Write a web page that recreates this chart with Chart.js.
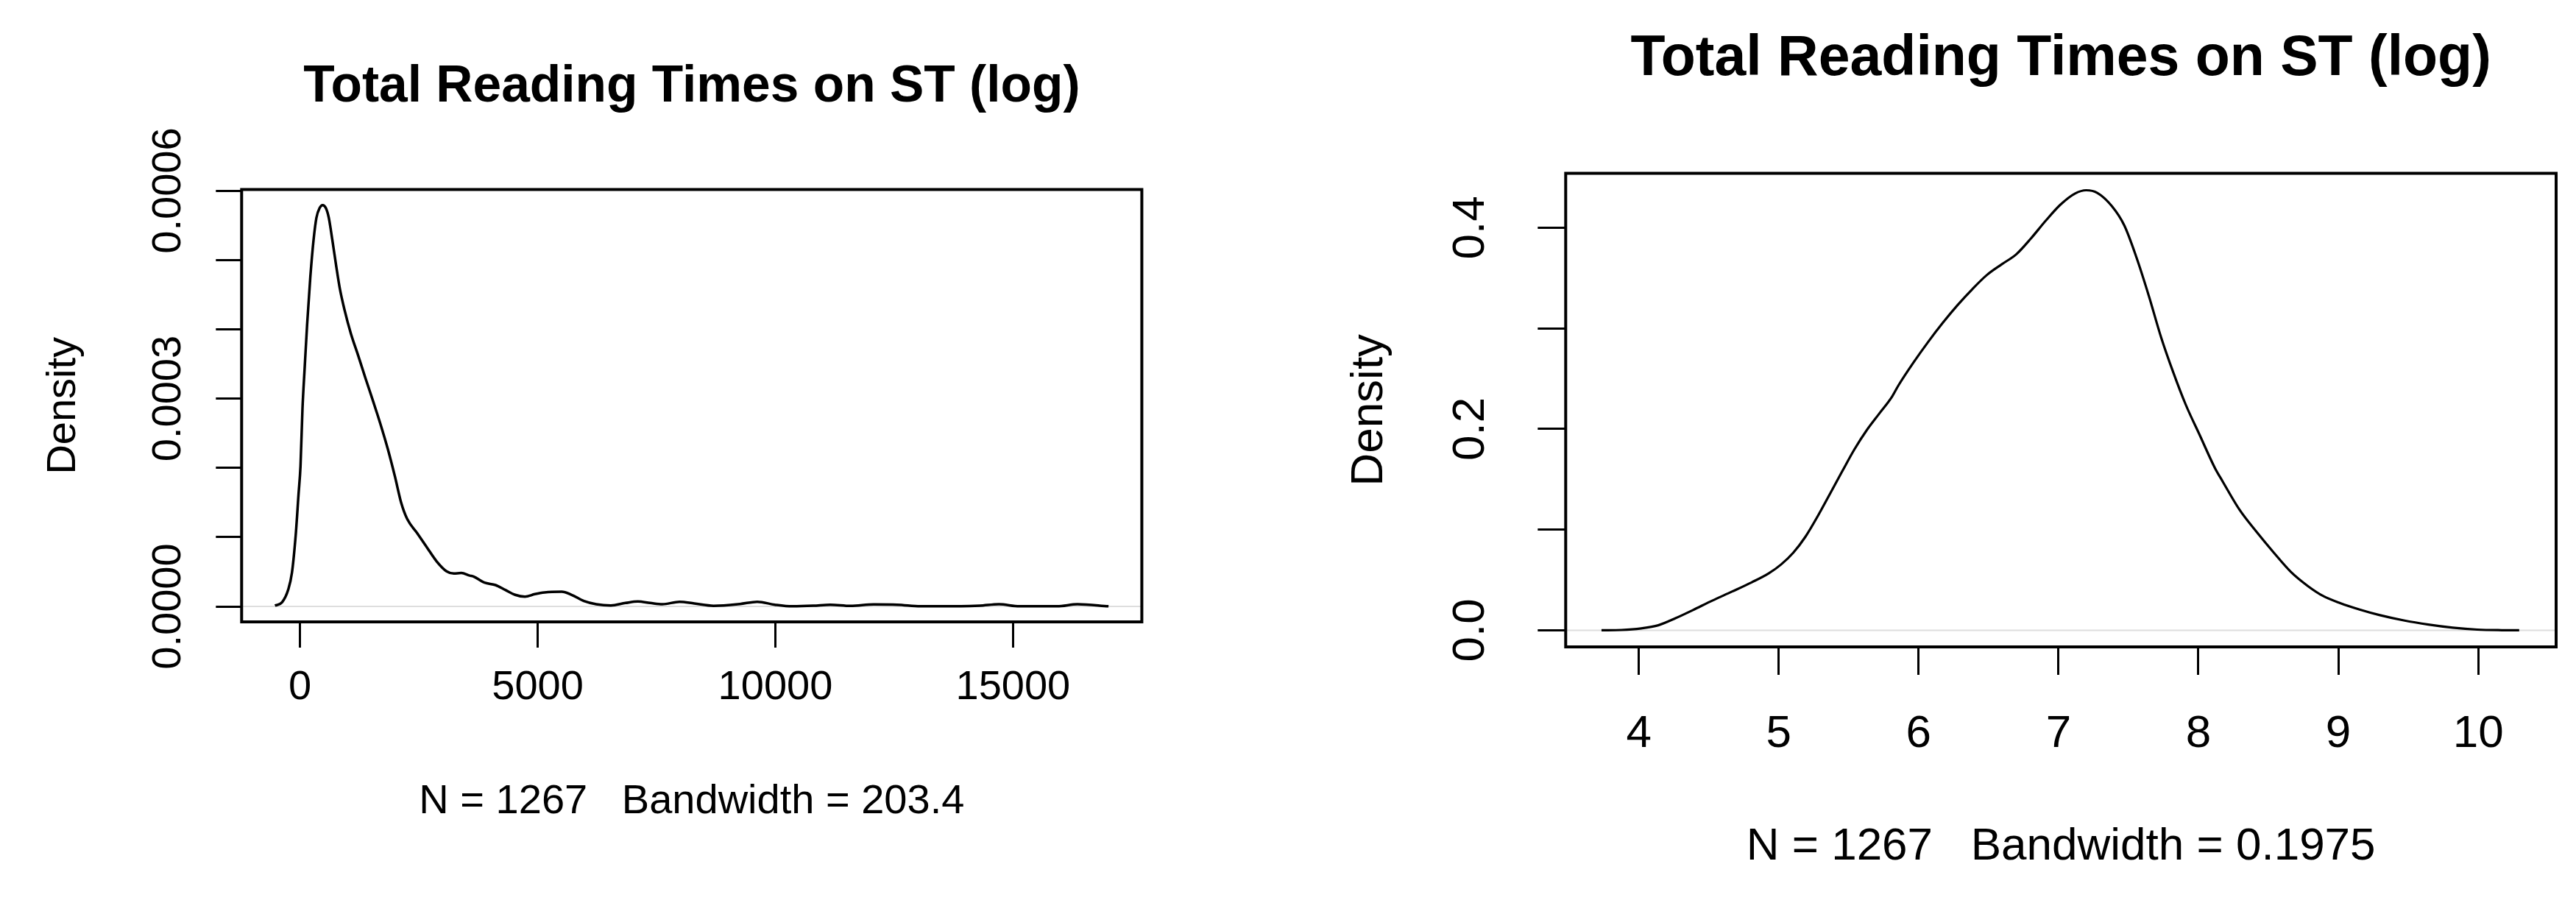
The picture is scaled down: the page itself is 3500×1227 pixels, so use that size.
<!DOCTYPE html>
<html>
<head>
<meta charset="utf-8">
<script src="https://cdn.jsdelivr.net/npm/chart.js@4.4.1/dist/chart.umd.min.js"></script>
<style>
html,body{margin:0;padding:0;background:#fff;}
#wrap{position:relative;width:3500px;height:1227px;background:#fff;}
.c{position:absolute;top:0;width:1750px;height:1227px;}
</style>
</head>
<body>
<div id="wrap">
  <div class="c" style="left:0"><canvas id="c1"></canvas></div>
  <div class="c" style="left:1750px"><canvas id="c2"></canvas></div>
</div>
<script>
// ---------- data ----------
const chartTitle = "Total Reading Times on ST (log)";
const yAxisTitle = "Density";

// left panel: density of raw reading times
const leftX = [-528, -378, -248, -170, -93, -31, 10, 51, 98, 149, 216, 283, 345, 413, 474, 542, 604, 681, 759, 836, 939, 1068, 1223, 1378, 1533, 1688, 1843, 1998, 2126, 2255, 2462, 2668, 2874, 3081, 3236, 3391, 3571, 3649, 3881, 4113, 4320, 4526, 4732, 4939, 5146, 5506, 5714, 5971, 6230, 6539, 6849, 7107, 7365, 7623, 7984, 8294, 8700, 9255, 9620, 9989, 10356, 10800, 11154, 11581, 12070, 12561, 13050, 13908, 14300, 14704, 15133, 15929, 16356, 17009];
const leftY = [0.0000012, 0.000006, 0.0000244, 0.0000488, 0.0001015, 0.0001625, 0.000203, 0.000285, 0.000345, 0.000407, 0.000475, 0.000528, 0.000561, 0.000575, 0.000579, 0.000575, 0.000561, 0.000528, 0.000492, 0.000459, 0.000427, 0.000394, 0.000362, 0.000329, 0.000297, 0.000264, 0.000228, 0.000187, 0.000150, 0.000126, 0.000106, 0.0000853, 0.000065, 0.0000508, 0.0000475, 0.0000482, 0.0000445, 0.0000432, 0.0000343, 0.0000308, 0.0000237, 0.0000167, 0.0000141, 0.0000177, 0.0000202, 0.0000212, 0.0000167, 0.0000078, 0.0000032, 0.0000014, 0.000005, 0.0000071, 0.000005, 0.0000032, 0.0000067, 0.0000042, 0.0000009, 0.0000035, 0.0000067, 0.0000025, 0.0000002, 0.000001, 0.0000025, 0.0000007, 0.0000028, 0.0000025, 0.0000002, 0.0000002, 0.000001, 0.0000032, 0.0000002, 0.0000002, 0.0000032, 0.0000002];
const leftXTicks = [0, 5000, 10000, 15000];
const leftYTicks = [0, 0.0001, 0.0002, 0.0003, 0.0004, 0.0005, 0.0006];
const leftYTickLabels = ["0.0000", "", "", "0.0003", "", "", "0.0006"];
const leftSub = "N = 1267   Bandwidth = 203.4";

// right panel: density of log reading times
const rightX = [3.733, 3.876, 4.017, 4.139, 4.262, 4.385, 4.525, 4.665, 4.806, 4.928, 5.016, 5.104, 5.191, 5.279, 5.367, 5.454, 5.542, 5.630, 5.717, 5.805, 5.857, 5.962, 6.068, 6.173, 6.278, 6.383, 6.488, 6.594, 6.699, 6.804, 6.909, 7.014, 7.119, 7.198, 7.277, 7.382, 7.470, 7.557, 7.645, 7.733, 7.820, 7.908, 8.013, 8.118, 8.171, 8.293, 8.416, 8.539, 8.661, 8.785, 8.890, 9.013, 9.152, 9.292, 9.468, 9.643, 9.818, 9.994, 10.169, 10.293];
const rightY = [0, 0.0003, 0.0019, 0.005, 0.012, 0.020, 0.0295, 0.0384, 0.0476, 0.0565, 0.0653, 0.0771, 0.093, 0.1135, 0.1358, 0.158, 0.180, 0.199, 0.215, 0.231, 0.2436, 0.2658, 0.2865, 0.3055, 0.323, 0.3388, 0.353, 0.3636, 0.3737, 0.3895, 0.407, 0.4229, 0.434, 0.4372, 0.4346, 0.4213, 0.4023, 0.3705, 0.3325, 0.2912, 0.2563, 0.2246, 0.1928, 0.1612, 0.1484, 0.1199, 0.0977, 0.0771, 0.058, 0.0437, 0.0342, 0.027, 0.0206, 0.0152, 0.0098, 0.0057, 0.0026, 0.0007, 0.0001, 0];
const rightXTicks = [4, 5, 6, 7, 8, 9, 10];
const rightYTicks = [0, 0.1, 0.2, 0.3, 0.4];
const rightYTickLabels = ["0.0", "", "0.2", "", "0.4"];
const rightSub = "N = 1267   Bandwidth = 0.1975";

// ---------- drawing ----------
const FAMILY = '"Liberation Sans", Arial, Helvetica, sans-serif';

function build(id, p) {
  const m = document.createElement('canvas').getContext('2d');
  m.font = p.font + 'px ' + FAMILY;
  const labW = Math.max.apply(null, p.yLabels.map(s => m.measureText(s).width));

  const framePlugin = {
    id: 'frame' + id,
    beforeDatasetsDraw(chart) {
      const {ctx, chartArea: a, scales: {y}} = chart;
      const y0 = y.getPixelForValue(0);
      ctx.save();
      ctx.strokeStyle = '#dedede';
      ctx.lineWidth = 2;
      ctx.beginPath(); ctx.moveTo(a.left, y0); ctx.lineTo(a.right, y0); ctx.stroke();
      ctx.restore();
    },
    afterDraw(chart) {
      const {ctx, chartArea: a} = chart;
      ctx.save();
      ctx.strokeStyle = '#000';
      ctx.lineWidth = p.boxW;
      ctx.strokeRect(a.left, a.top, a.right - a.left, a.bottom - a.top);
      ctx.restore();
    }
  };

  return new Chart(document.getElementById(id), {
    type: 'scatter',
    data: {
      datasets: [{
        data: p.xs.map((x, i) => ({x: x, y: p.ys[i]})),
        showLine: true,
        borderColor: '#000',
        borderWidth: p.lineW,
        pointRadius: 0,
        fill: false,
        cubicInterpolationMode: 'monotone'
      }]
    },
    options: {
      responsive: true,
      maintainAspectRatio: false,
      animation: false,
      devicePixelRatio: 1,
      events: [],
      layout: {padding: {left: 0, right: p.padRight, top: 0, bottom: 0}},
      plugins: {
        legend: {display: false},
        tooltip: {enabled: false},
        title: {
          display: true, text: chartTitle, color: '#000', fullSize: false,
          font: {family: FAMILY, size: p.titleSize, weight: 'bold', lineHeight: 1},
          padding: {top: p.titleTop, bottom: p.titleBottom}
        }
      },
      scales: {
        x: {
          type: 'linear', position: 'bottom', min: p.xMin, max: p.xMax,
          afterBuildTicks: s => { s.ticks = p.xTicks.map(v => ({value: v})); },
          afterFit: s => { s.height = p.xHeight; },
          ticks: {
            callback: v => String(v), color: '#000', autoSkip: false,
            minRotation: 0, maxRotation: 0, padding: p.xPad,
            font: {family: FAMILY, size: p.font, lineHeight: 1.2}
          },
          grid: {drawOnChartArea: false, drawTicks: true, tickLength: p.tick, tickColor: '#000', tickWidth: p.tickW},
          border: {display: false},
          title: {
            display: true, text: p.sub, color: '#000',
            font: {family: FAMILY, size: p.font, lineHeight: 1.2},
            padding: {top: 0, bottom: p.subPad}
          }
        },
        y: {
          type: 'linear', position: 'left', min: p.yMin, max: p.yMax,
          afterBuildTicks: s => { s.ticks = p.yTicks.map(v => ({value: v})); },
          afterFit: s => { s.width = p.yWidth; },
          ticks: {
            callback: (v, i) => p.yLabels[i], color: '#000', autoSkip: false,
            minRotation: 90, maxRotation: 90, labelOffset: -labW / 2, padding: p.yPad,
            font: {family: FAMILY, size: p.font, lineHeight: 1.2}
          },
          grid: {drawOnChartArea: false, drawTicks: true, tickLength: p.tick, tickColor: '#000', tickWidth: p.tickW},
          border: {display: false},
          title: {
            display: true, text: yAxisTitle, color: '#000',
            font: {family: FAMILY, size: p.font, lineHeight: 1.2},
            padding: {top: p.densPad, bottom: 0}
          }
        }
      }
    },
    plugins: [framePlugin]
  });
}

build('c1', {
  xs: leftX, ys: leftY, xTicks: leftXTicks, yTicks: leftYTicks, yLabels: leftYTickLabels, sub: leftSub,
  xMin: -1229, xMax: 17710, yMin: -0.0000223, yMax: 0.0006016,
  font: 56, titleSize: 69.5, titleTop: 84, titleBottom: 104,
  yWidth: 328.3, padRight: 198.6, xHeight: 382,
  tick: 35, tickW: 3, xPad: 21, subPad: 104, yPad: 64, densPad: 53,
  lineW: 3.5, boxW: 4
});

build('c2', {
  xs: rightX, ys: rightY, xTicks: rightXTicks, yTicks: rightYTicks, yLabels: rightYTickLabels, sub: rightSub,
  xMin: 3.477, xMax: 10.557, yMin: -0.0165, yMax: 0.454,
  font: 62, titleSize: 77, titleTop: 42, titleBottom: 116.5,
  yWidth: 377.3, padRight: 27, xHeight: 348,
  tick: 38, tickW: 3, xPad: 44, subPad: 39, yPad: 90, densPad: 74,
  lineW: 3.2, boxW: 4
});
</script>
</body>
</html>
